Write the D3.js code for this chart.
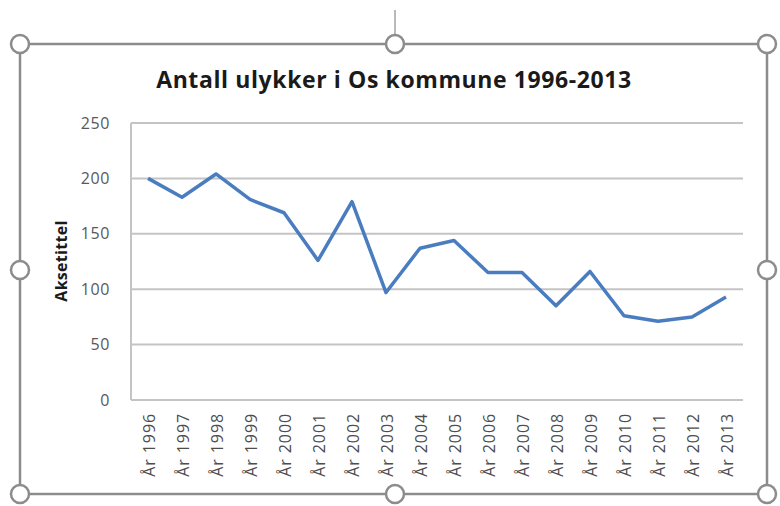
<!DOCTYPE html>
<html>
<head>
<meta charset="utf-8">
<script src="https://cdn.jsdelivr.net/npm/d3@7"></script>
<style>
  body { margin: 0; background: #fff; }
  text { font-family: "Open Sans", "Liberation Sans", sans-serif; }
</style>
</head>
<body>
<div id="chart"></div>
<script>
// data
var years = ["År 1996", "År 1997", "År 1998", "År 1999", "År 2000", "År 2001", "År 2002", "År 2003", "År 2004",
    "År 2005", "År 2006", "År 2007", "År 2008", "År 2009", "År 2010", "År 2011", "År 2012", "År 2013"];
var accidents = [200, 183, 204, 181, 169, 126, 179, 97, 137, 144, 115, 115, 85, 116, 76, 71, 75, 93];
var yTicks = [0, 50, 100, 150, 200, 250];

var width = 780, height = 506;
var svg = d3.select("#chart").append("svg").attr("width", width).attr("height", height);

var plot = { left: 131, right: 743, top: 123, bottom: 400 };

var x = d3.scalePoint().domain(years).range([plot.left, plot.right]).padding(0.5);
var y = d3.scaleLinear().domain([0, 250]).range([plot.bottom, plot.top]);

// gridlines
svg.append("g").selectAll("line")
    .data(yTicks)
    .enter()
    .append("line")
    .attr("x1", plot.left).attr("x2", plot.right)
    .attr("y1", function(d) { return y(d); })
    .attr("y2", function(d) { return y(d); })
    .attr("stroke", "#c4c4c4")
    .attr("stroke-width", 2);

// left axis line
svg.append("line")
    .attr("x1", plot.left).attr("x2", plot.left)
    .attr("y1", plot.top).attr("y2", plot.bottom)
    .attr("stroke", "#c4c4c4").attr("stroke-width", 2);

// y tick labels
var yAxis = d3.axisLeft(y).tickValues(yTicks).tickSize(0).tickPadding(21);
var gy = svg.append("g").attr("transform", "translate(" + plot.left + ",0)").call(yAxis);
gy.select(".domain").remove();
gy.selectAll("text")
    .style("font-size", "16px")
    .style("letter-spacing", "0.6px")
    .style("font-family", "'Open Sans', sans-serif")
    .attr("fill", "#595959");

// x tick labels
var xAxis = d3.axisBottom(x).tickSize(0).tickPadding(0);
var gx = svg.append("g").attr("transform", "translate(0," + plot.bottom + ")").call(xAxis);
gx.select(".domain").remove();
gx.selectAll("text")
    .attr("transform", "rotate(-90)")
    .attr("x", -13)
    .attr("y", 1)
    .attr("dy", "0.35em")
    .style("text-anchor", "end")
    .style("font-size", "16px")
    .style("letter-spacing", "0.9px")
    .style("font-family", "'Open Sans', sans-serif")
    .attr("fill", "#4d4d4d");

// the line
var line = d3.line()
    .x(function(d, i) { return x(years[i]); })
    .y(function(d) { return y(d); });

svg.append("path")
    .datum(accidents)
    .attr("d", line)
    .attr("fill", "none")
    .attr("stroke", "#4a7dc0")
    .attr("stroke-width", 3.5)
    .attr("stroke-linejoin", "round");

// title
svg.append("text")
    .attr("x", 394).attr("y", 88)
    .attr("text-anchor", "middle")
    .style("font-size", "23px")
    .style("letter-spacing", "0.6px")
    .style("font-weight", "bold")
    .attr("fill", "#1a1a1a")
    .text("Antall ulykker i Os kommune 1996-2013");

// axis title
svg.append("text")
    .attr("transform", "translate(67,261) rotate(-90)")
    .attr("text-anchor", "middle")
    .style("font-size", "16px")
    .style("letter-spacing", "0.3px")
    .style("font-weight", "bold")
    .attr("fill", "#1a1a1a")
    .text("Aksetittel");

// selection frame with handles
var frame = { x0: 20, x1: 767, y0: 44, y1: 494 };
var frameColor = "#8c8c8c";

svg.append("line")
    .attr("x1", 395).attr("x2", 395).attr("y1", 10).attr("y2", frame.y0)
    .attr("stroke", frameColor).attr("stroke-width", 1.2);

svg.append("rect")
    .attr("x", frame.x0).attr("y", frame.y0)
    .attr("width", frame.x1 - frame.x0).attr("height", frame.y1 - frame.y0)
    .attr("fill", "none").attr("stroke", frameColor).attr("stroke-width", 2.5);

var midX = 395, midY = 270;
var handles = [
    [frame.x0, frame.y0], [midX, frame.y0], [frame.x1, frame.y0],
    [frame.x0, midY], [frame.x1, midY],
    [frame.x0, frame.y1], [midX, frame.y1], [frame.x1, frame.y1]
];
svg.append("g").selectAll("circle")
    .data(handles)
    .enter()
    .append("circle")
    .attr("cx", function(d) { return d[0]; })
    .attr("cy", function(d) { return d[1]; })
    .attr("r", 9)
    .attr("fill", "#fff")
    .attr("stroke", frameColor)
    .attr("stroke-width", 2.5);
</script>
</body>
</html>
